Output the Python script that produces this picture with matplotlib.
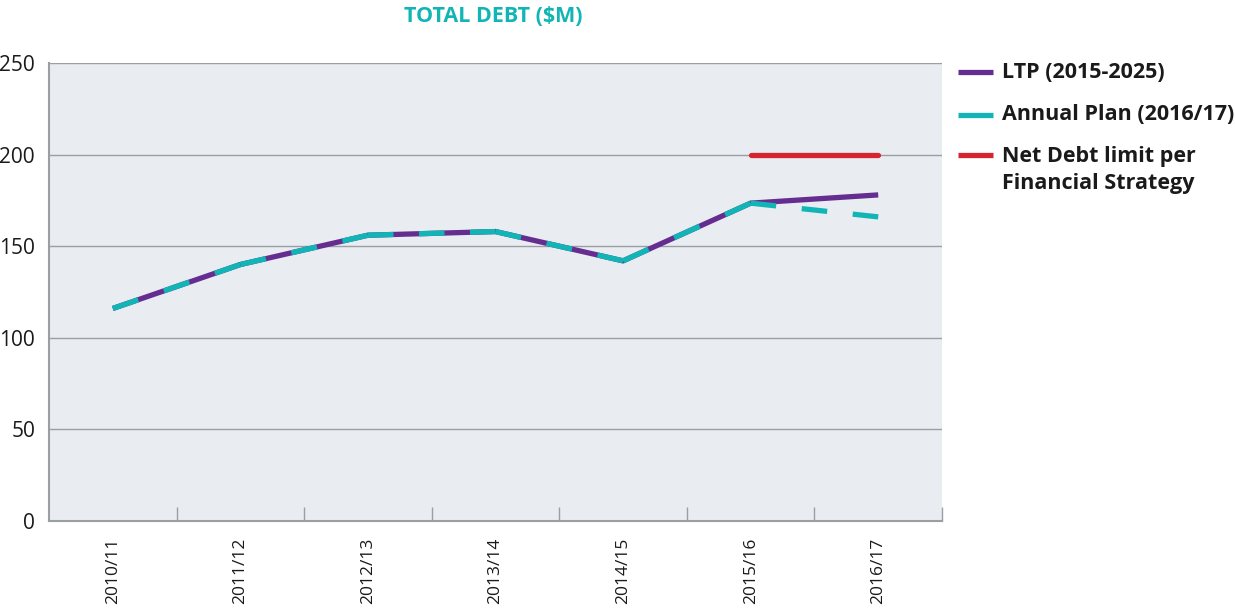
import matplotlib
matplotlib.use("Agg")
import math
import matplotlib.pyplot as plt
from matplotlib.lines import Line2D

categories = ["2010/11", "2011/12", "2012/13", "2013/14", "2014/15", "2015/16", "2016/17"]
ltp = [116, 140, 156, 158, 142, 173.5, 178]
annual_plan = [116, 140, 156, 158, 142, 173.5, 166]
limit_idx = [5, 6]
limit_vals = [200, 200]
yticks = [0, 50, 100, 150, 200, 250]

PURPLE = "#662d91"
TEAL = "#12b5b5"
RED = "#d7252f"
BG = "#e9edf2"
GRID = "#9a9fa4"
TXT = "#1a1a1a"
LW = 3.8  # points

plt.rcParams['font.family'] = ['Open Sans', 'DejaVu Sans']

fig = plt.figure(figsize=(12.35, 6.1), dpi=100)
ax = fig.add_axes([49/1235, 89/610, 893/1235, 458/610])
ax.set_facecolor(BG)

x = list(range(len(categories)))
ax.set_xlim(-0.5, len(categories) - 0.5)
ax.set_ylim(0, 250)

ax.plot(x, ltp, color=PURPLE, lw=LW, solid_capstyle='butt', zorder=3)

# Annual plan: dashed per segment, each segment starting and ending with a dash
lw_px = LW * fig.dpi / 72.0
target = 26.0
for i in range(len(x) - 1):
    p0 = ax.transData.transform((x[i], annual_plan[i]))
    p1 = ax.transData.transform((x[i + 1], annual_plan[i + 1]))
    L = math.hypot(p1[0] - p0[0], p1[1] - p0[1])
    n = max(1, round((L - target) / (2 * target)))
    d = L / (2 * n + 1)
    unit = d / lw_px
    ax.plot(x[i:i + 2], annual_plan[i:i + 2], color=TEAL, lw=LW,
            dashes=(unit, unit), dash_capstyle='butt', zorder=4)

ax.plot(limit_idx, limit_vals, color=RED, lw=LW, solid_capstyle='round', zorder=3)

ax.set_yticks(yticks)
ax.set_yticklabels([str(v) for v in yticks], fontsize=15, color=TXT)
ax.tick_params(axis='y', length=0, pad=10)
ax.yaxis.grid(True, color=GRID, lw=1.0)
ax.set_axisbelow(True)

ax.set_xticks(x)
ax.set_xticklabels(categories, rotation=90, fontsize=12.5, color=TXT)
ax.tick_params(axis='x', which='major', length=0, pad=12)
ax.set_xticks([i + 0.5 for i in x], minor=True)
ax.tick_params(axis='x', which='minor', direction='in', length=10, color=GRID, width=1)

for s in ['top', 'right']:
    ax.spines[s].set_visible(False)
for s in ['left', 'bottom']:
    ax.spines[s].set_color(GRID)
    ax.spines[s].set_linewidth(1.5)

fig.text(493/1235, 1 - 17/610, "TOTAL DEBT ($M)", color=TEAL, fontsize=15.5,
         fontweight='bold', ha='center', va='center')

# Legend (manual)
leg_colors = [PURPLE, TEAL, RED]
leg_labels = ["LTP (2015-2025)", "Annual Plan (2016/17)", "Net Debt limit per\nFinancial Strategy"]
leg_y = [72, 115, 155]
for c, lab, yy in zip(leg_colors, leg_labels, leg_y):
    yf = 1 - yy / 610
    fig.add_artist(Line2D([958/1235, 993/1235], [yf, yf], transform=fig.transFigure,
                          color=c, lw=LW, solid_capstyle='butt'))
    nlines = lab.count("\n") + 1
    if nlines == 1:
        fig.text(1002/1235, yf, lab, fontsize=15.5, fontweight='bold', color=TXT,
                 ha='left', va='center')
    else:
        yc = 1 - (yy + 15) / 610
        fig.text(1002/1235, yc, lab, fontsize=15.5, fontweight='bold', color=TXT,
                 ha='left', va='center', linespacing=1.42)

fig.savefig("out.png", dpi=100)
